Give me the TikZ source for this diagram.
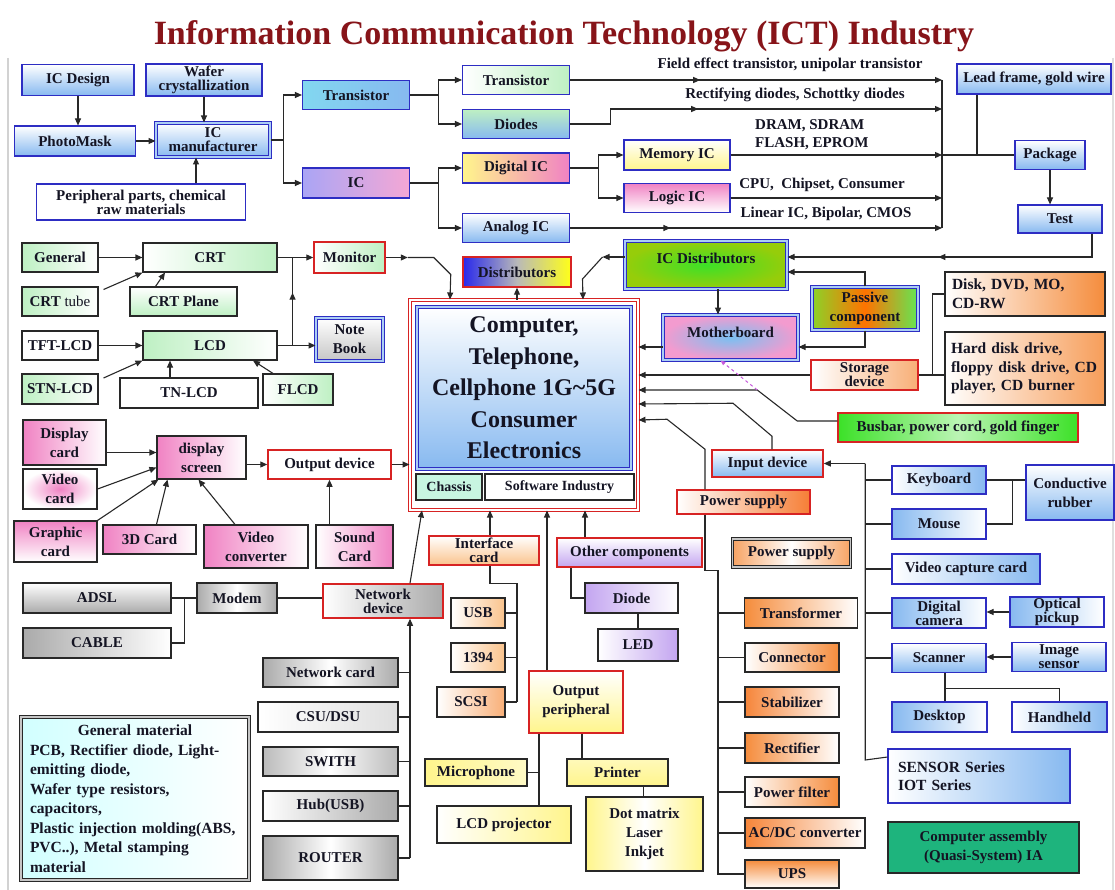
\documentclass[tikz,border=0pt]{standalone}
\usepackage{fontspec}
\setmainfont{Liberation Serif}
\usetikzlibrary{arrows.meta,decorations.markings}

\definecolor{bord}{RGB}{40,40,40}
\definecolor{bl}{RGB}{45,45,195}
\definecolor{rd}{RGB}{215,35,35}
\definecolor{lb}{RGB}{135,185,240}
\definecolor{lg}{RGB}{190,240,195}
\definecolor{pk}{RGB}{240,130,195}
\definecolor{og}{RGB}{245,140,60}
\definecolor{ogl}{RGB}{250,195,140}
\definecolor{yl}{RGB}{255,245,140}
\definecolor{gy}{RGB}{170,170,170}
\definecolor{pu}{RGB}{195,165,240}
\definecolor{tcy}{RGB}{130,215,240}
\definecolor{lav}{RGB}{170,165,245}
\definecolor{grn}{RGB}{60,225,40}
\definecolor{ygrn}{RGB}{150,205,10}
\definecolor{pgrn}{RGB}{140,210,40}
\definecolor{dblue}{RGB}{40,40,235}
\definecolor{casm}{RGB}{30,180,125}
\definecolor{mag}{RGB}{200,90,220}
\definecolor{titlec}{RGB}{135,20,25}
\definecolor{txt}{RGB}{20,20,35}

\newcommand\bxfont{\fontsize{15}{19}\selectfont\bfseries}
\newcommand\tightfont{\fontsize{15}{14}\selectfont\bfseries}

\tikzset{
  bx/.style={draw=bord, line width=1.1pt, font=\bxfont, text=txt, align=center, inner sep=1pt},
  bb/.style={bx, draw=bl},
  rb/.style={bx, draw=rd, line width=1.5pt},
  dblb/.style={bx, draw=bl, double=lb!70, double distance=1.8pt, line width=1pt},
  dblk/.style={bx, draw=bord, double=gray!45, double distance=1.8pt, line width=1pt},
  tight/.style={font=\tightfont},
  sz/.style 2 args={minimum width=#1, minimum height=#2},
  cn/.style={draw=bord, line width=1.1pt},
  arr/.style={cn, -{Triangle[length=7pt,width=6pt]}},
  midarr/.style={postaction={decorate}, decoration={markings, mark=at position #1 with {\arrow{Triangle[length=7pt,width=6pt]}}}},
  lbl/.style={font=\bxfont, text=txt, inner sep=0pt},
}

\begin{document}
\begin{tikzpicture}[x=1pt,y=-1pt]
\useasboundingbox (0,0) rectangle (1115,890);
\fill[white] (0,0) rectangle (1115,890);
\draw[gray!35, line width=1.5pt] (8,58) -- (8,890);
\draw[gray!25, line width=1.5pt] (1113,58) -- (1113,890);

% title
\node[font=\fontsize{34}{40}\selectfont\bfseries, text=titlec, inner sep=0pt] (title) at (564,36) {Information Communication Technology (ICT) Industry};

% ---------- semiconductor chain ----------
\node[bb, top color=white, bottom color=lb, sz={112}{31}] (icd) at (78,80) {IC Design};
\node[bb, tight, top color=white, bottom color=lb, sz={116}{32}] (wafer) at (204,80) {Wafer\\crystallization};
\node[bb, top color=white, bottom color=lb, sz={121}{30}] (pmask) at (75,141) {PhotoMask};
\node[dblb, tight, top color=white, bottom color=lb, sz={114}{34}] (icm) at (213,140) {IC\\manufacturer};
\node[bb, tight, fill=white, sz={209}{36}] (periph) at (141,202) {Peripheral parts, chemical\\raw materials};

\node[bb, left color=tcy, right color=lb, sz={107}{29}] (tr1) at (356,95) {Transistor};
\node[bb, left color=lav, right color=pk!70, sz={107}{30}] (ic1) at (356,183) {IC};
\node[bb, left color=white, right color=lg, sz={107}{29}] (tr2) at (516,80) {Transistor};
\node[bb, top color=lg, bottom color=lb, sz={107}{29}] (dio) at (516,124) {Diodes};
\node[bb, left color=yl, right color=pk, sz={107}{30}] (dig) at (516,168) {Digital IC};
\node[bb, top color=white, bottom color=lb, sz={107}{29}] (ana) at (516,228) {Analog IC};
\node[bb, top color=white, bottom color=yl, sz={106}{30}] (mem) at (677,155) {Memory IC};
\node[bb, top color=pk, bottom color=white, sz={106}{29}] (logic) at (677,198) {Logic IC};
\node[bb, top color=white, bottom color=lb, sz={154}{30}] (lead) at (1034,79) {Lead frame, gold wire};
\node[bb, top color=white, bottom color=lb, sz={70}{29}] (pack) at (1050,155) {Package};
\node[bb, top color=white, bottom color=lb, sz={84}{28}] (test) at (1060,219) {Test};

\node[lbl] (lfet) at (790,65) {Field effect transistor, unipolar transistor};
\node[lbl] (lrect) at (795,95) {Rectifying diodes, Schottky diodes};
\node[lbl, align=left, anchor=west, font=\fontsize{15}{18}\selectfont\bfseries] (lmem) at (755,135) {DRAM, SDRAM\\FLASH, EPROM};
\node[lbl] (lcpu) at (822,185) {CPU,\ \ Chipset, Consumer};
\node[lbl] (llin) at (826,214) {Linear IC, Bipolar, CMOS};

\draw[arr] (icd) -- (icd |- pmask.north);
\draw[arr] (wafer) -- (wafer |- icm.north);
\draw[arr] (pmask) -- (pmask -| icm.west);
\draw[arr] ([xshift=55pt]periph.north) -- ([xshift=-17pt]icm.south);
\draw[cn] (icm.east) -- ++(13,0) coordinate (j1);
\draw[arr] (j1) |- (tr1.west);
\draw[arr] (j1) |- (ic1.west);
\draw[cn] (tr1.east) -- ++(28,0) coordinate (j2);
\draw[arr] (j2) |- (tr2.west);
\draw[arr] (j2) |- (dio.west);
\draw[cn] (ic1.east) -- ++(28,0) coordinate (j3);
\draw[arr] (j3) |- (dig.west);
\draw[arr] (j3) |- (ana.west);
\draw[cn] (dig.east) -- ++(28,0) coordinate (j4);
\draw[arr] (j4) |- (mem.west);
\draw[arr] (j4) |- (logic.west);

\coordinate (busT) at (942,80);
\coordinate (busR) at (942,109);
\coordinate (busB) at (942,228);
\draw[cn] (busT) -- (busB);
\draw[arr, midarr=0.35] (tr2.east) -- (tr2.east -| busT);
\draw[arr, midarr=0.37] (dio.east) -- ++(40,0) -- ++(0,-15) -- (busR);
\draw[arr] (mem.east) -- (mem.east -| busT);
\draw[cn] (mem.east -| busT) -- (pack.west);
\coordinate (lf) at ([xshift=-57pt]lead.south);
\draw[cn] (lf) -- (lf |- pack.west);
\draw[arr] (logic.east) -- (logic.east -| busT);
\draw[arr, midarr=0.27] (ana.east) -- (ana.east -| busT);
\draw[arr] (pack) -- (pack |- test.north);

% ---------- central product ----------
\node[draw=rd, line width=1pt, double=white, double distance=2pt, sz={228}{210}] (compr) at (524,405) {};
\node[dblb, top color=white, bottom color=lb, sz={214}{162}, font=\fontsize{24}{31.5}\selectfont\bfseries] (comp) at (524,388) {Computer,\\Telephone,\\Cellphone 1G\textasciitilde 5G\\Consumer\\Electronics};
\node[bx, fill={rgb,255:red,200;green,245;blue,225}, sz={66}{26}, font=\fontsize{14}{16}\selectfont\bfseries] (chassis) at (449,487) {Chassis};
\node[bx, fill=white, sz={149}{26}, font=\fontsize{14}{16}\selectfont\bfseries] (soft) at (559.5,487) {Software Industry};

\node[rb, left color=dblue, right color=yellow!90, middle color=gray!55, sz={108}{30}] (dist) at (517,272) {Distributors};
\node[dblb, inner color=grn, outer color=ygrn, sz={162}{48}, text height=11pt, text depth=13pt] (icdist) at (706,265) {IC Distributors};
\node[dblb, inner color=lb!90!cyan, outer color=pk!80, sz={135}{45}, text height=11pt, text depth=11pt] (mb) at (730.5,337.5) {Motherboard};
\node[dblb, left color=pgrn, right color=grn!80, middle color=orange!90!red, sz={106}{43}] (pas) at (865,308.5) {Passive\\component};
\node[rb, tight, left color=white, right color=og!70, sz={107}{30}] (stor) at (864.5,375) {Storage\\device};
\node[bx, left color=white, right color=og, sz={160}{44}, text width=146pt, inner xsep=7pt, align=left, font=\fontsize{15.5}{19}\selectfont\bfseries] (disk) at (1025,294) {Disk, DVD, MO,\\CD-RW};
\node[bx, left color=white, right color=og!85, sz={160}{73}, text width=148pt, inner xsep=6pt, align=left, font=\fontsize{15.5}{18.5}\selectfont\bfseries] (hdd) at (1025,368.5) {Hard disk drive,\\floppy disk drive, CD\\player, CD burner};
\node[rb, left color=grn, right color=grn, middle color=grn!35, sz={240}{29}] (busbar) at (958,427.5) {Busbar, power cord, gold finger};

\coordinate (t1) at ([xshift=32pt]test.south);
\draw[arr, midarr=0.54] (t1) |- ([yshift=8pt]icdist.east);
\draw[arr] (compr.north -| dist.south) -- (dist.south);
\draw[arr] ([yshift=8pt]icdist.west) -- ++(-22,0) coordinate (i0);
\draw[arr] (i0) -- ++(-20,22) -- ([xshift=59pt]compr.north);
\coordinate (id1) at ([xshift=12pt]icdist.south);
\draw[arr] (id1) -- (id1 |- mb.north);
\coordinate (mb1) at ([yshift=-9.5pt]mb.west);
\draw[arr] (mb1) -- (mb1 -| compr.east);
\draw[arr] (pas.north) |- ([yshift=-7pt]icdist.east);
\draw[arr] (pas.south) |- ([yshift=-9.5pt]mb.east);
\draw[arr] (stor.west) -- (stor.west -| compr.east);
\draw[cn] (stor.east) -- ++(14,0) coordinate (sj) |- (disk.west);
\draw[cn] (sj) -- (sj -| hdd.west);
\draw[arr] ([yshift=6.5pt]busbar.west) -- ++(-40,0) -- ++(-40,-31) coordinate (bb) -- ([yshift=15pt]compr.east);
\draw[dashed, draw=mag, line width=1pt, -{Triangle[length=5pt,width=4pt]}] (bb) -- ([xshift=-10pt]mb.south);

% ---------- displays ----------
\node[bx, left color=lg, right color=white, sz={76}{29}] (gen) at (60,257.5) {General};
\node[bx, left color=white, right color=lg, sz={134}{29}] (crt) at (210,257.5) {CRT};
\node[bx, left color=lg, right color=white, sz={76}{29}] (crtt) at (60,301.5) {CRT {\mdseries tube}};
\node[bx, top color=white, bottom color=lg, sz={107}{29}] (crtp) at (183.5,301.5) {CRT Plane};
\node[bx, fill=white, sz={76}{29}] (tft) at (60,345.5) {TFT-LCD};
\node[bx, left color=lg, right color=white, sz={134}{29}] (lcd) at (210,345.5) {LCD};
\node[bx, left color=lg, right color=white, sz={76}{30}] (stn) at (60,389) {STN-LCD};
\node[bx, fill=white, sz={138}{30}] (tn) at (189,393) {TN-LCD};
\node[bx, left color=white, right color=lg, sz={70}{31}] (flcd) at (298,389.5) {FLCD};
\node[rb, left color=white, right color=lg, sz={71}{31}] (mon) at (349.5,257.5) {Monitor};
\node[dblb, top color=white, bottom color=gray!45, sz={67}{43}] (nb) at (349.5,339.5) {Note\\Book};

\draw[arr] (gen.east) -- (crt.west);
\draw[arr] ([xshift=5pt,yshift=12pt]crtt.east) -- (crt.south west);
\draw[arr] ([xshift=-28pt]crtp.north) -- ([xshift=-45pt]crt.south);
\draw[arr] (tft.east) -- (lcd.west);
\draw[arr] ([xshift=5pt,yshift=11pt]stn.east) -- (lcd.south west);
\draw[arr] ([xshift=-19pt]tn.north) -- ([xshift=-40pt]lcd.south);
\draw[arr] ([xshift=-25pt]flcd.north) -- ([xshift=43pt]lcd.south);
\draw[arr] (crt.east) -- (mon.west);
\draw[arr] (lcd.east) -- (lcd.east -| nb.west);
\draw[cn, midarr=0.6] ([xshift=15pt]lcd.east) -- ([xshift=15pt]crt.east);
\draw[arr] (mon.east) -- ++(22,0) coordinate (m0);
\draw[arr] (m0) -- ++(26,0) -- ++(17,17) -- ([xshift=-74pt]compr.north);

% ---------- output devices ----------
\node[bx, left color=pk, right color=white, sz={83}{45}] (dc) at (64.5,442.5) {Display\\card};
\node[bx, inner color=pk, outer color=white, sz={74}{40}] (vc) at (60,489) {Video\\card};
\node[bx, top color=pk, bottom color=white, sz={83}{41}] (gc) at (55.5,541.5) {Graphic\\card};
\node[bx, left color=pk, right color=white, sz={93}{29}] (c3d) at (149.5,539.5) {3D Card};
\node[bx, left color=pk, right color=white, sz={104}{43}] (vconv) at (256,546.5) {Video\\converter};
\node[bx, left color=white, right color=pk, sz={77}{43}] (sc) at (354.5,546.5) {Sound\\Card};
\node[bx, left color=pk, right color=white, sz={89}{43}] (ds) at (201.5,457.5) {display\\screen};
\node[rb, fill=white, sz={123}{29}] (od) at (329.5,464.5) {Output device};

\coordinate (a1) at ([yshift=-10pt]dc.east);
\draw[arr] (a1) -- (a1 -| ds.west);
\draw[arr] (vc.east) -- ([yshift=-10pt]ds.west);
\draw[arr] (gc.north east) -- ([xshift=2pt]ds.south west);
\draw[arr] ([xshift=7pt]c3d.north) -- ([xshift=-34pt]ds.south);
\draw[arr] ([xshift=-21pt]vconv.north) -- ([xshift=-3pt]ds.south);
\coordinate (a2) at (ds.east |- od.west);
\draw[arr] (a2) -- (od.west);
\coordinate (a3) at (sc.north -| od.south);
\draw[arr] (a3) -- (od.south);
\draw[arr] (od.east) -- (od.east -| compr.west);

% ---------- network ----------
\node[bx, top color=white, bottom color=gy, sz={148}{30}] (adsl) at (97,598) {ADSL};
\node[bx, left color=gy, right color=white, sz={148}{30}] (cable) at (97,643) {CABLE};
\node[bx, left color=gy, right color=gy, middle color=white, sz={80}{30}] (modem) at (237,598) {Modem};
\node[rb, tight, left color=white, right color=gy, sz={120}{34}] (nd) at (383,601) {Network\\device};
\node[bx, left color=gy, right color=gy, middle color=white, sz={135}{29}] (ncard) at (330.5,672.5) {Network card};
\node[bx, left color=white, right color=gray!25, sz={140}{30}] (csu) at (328,717) {CSU/DSU};
\node[bx, left color=gy!80, right color=gy!80, middle color=white, sz={135}{29}] (swith) at (330.5,761.5) {SWITH};
\node[bx, left color=white, right color=gy, sz={135}{30}] (hub) at (330.5,806) {Hub(USB)};
\node[bx, left color=gy, right color=gy, middle color=white, sz={135}{44}] (router) at (330.5,858) {ROUTER};
\node[dblk, left color=cyan!18, right color=white, sz={228}{163}, text width=210pt, inner xsep=9pt, align=left, font=\fontsize{15.5}{19.5}\selectfont\bfseries] (gm) at (135,798.5) {\makebox[210pt]{General material}\\PCB, Rectifier diode, Light-\\emitting diode,\\Wafer type resistors,\\capacitors,\\Plastic injection molding(ABS,\\PVC..), Metal stamping\\material};

\draw[cn] (adsl.east) -- (modem.west);
\draw[cn] (cable.east) -| ([xshift=13pt]adsl.east);
\draw[cn] (modem.east) -- (modem.east -| nd.west);
\draw[arr] ([xshift=27pt]nd.north) -- ([xshift=-102pt]compr.south);
\coordinate (nt) at ([xshift=27pt]nd.south);
\draw[arr] (nt |- router.east) -- (nt);
\foreach \n in {ncard,csu,swith,hub,router} \draw[cn] (\n.east) -- (\n.east -| nt);

% ---------- interface / other components / peripherals ----------
\node[rb, tight, top color=white, bottom color=ogl, sz={110}{29}] (ifc) at (484,550.5) {Interface\\card};
\node[bx, left color=white, right color=ogl, sz={54}{30}] (usb) at (478,613) {USB};
\node[bx, left color=white, right color=ogl, sz={54}{29}] (fw) at (478,657.5) {1394};
\node[bx, left color=white, right color=og!70, sz={68}{30}] (scsi) at (471,702) {SCSI};
\node[rb, top color=white, bottom color=yl, sz={94}{62}] (op) at (576,702) {Output\\peripheral};
\node[rb, top color=white, bottom color=pu, sz={145}{29}] (oc) at (629.5,552.5) {Other components};
\node[bx, left color=pu, right color=white, sz={93}{30}] (diode) at (631.5,598) {Diode};
\node[bx, left color=white, right color=pu, sz={80}{32}] (led) at (638,645) {LED};
\node[bx, left color=yl, right color=yl!50, sz={102}{27}] (mic) at (476,772.5) {Microphone};
\node[bx, left color=white, right color=yl, sz={134}{37}] (lcdp) at (504,824.5) {LCD projector};
\node[bx, top color=yl!60, bottom color=yl, sz={101}{27}] (prn) at (617.5,772.5) {Printer};
\node[bx, left color=yl, right color=yl, middle color=white, sz={117}{74}] (dot) at (644.5,834) {Dot matrix\\Laser\\Inkjet};

\draw[arr] ([xshift=6pt]ifc.north) -- ([xshift=-34pt]compr.south);
\draw[cn] ([xshift=6pt]ifc.south) -- ++(0,18) -- ++(27,0) coordinate (it2) -- (it2 |- scsi.east);
\foreach \n in {usb,fw,scsi} \draw[cn] (\n.east) -- (\n.east -| it2);
\draw[arr] ([xshift=-29pt]op.north) -- ([xshift=23pt]compr.south);
\draw[arr] ([xshift=-44.5pt]oc.north) -- ([xshift=61pt]compr.south);
\draw[cn] ([xshift=-58.5pt]oc.south) |- (diode.west);
\draw[cn] (led.north) -- (led.north |- diode.south);
\coordinate (o1) at ([xshift=-37pt]op.south);
\draw[cn] (o1) -- (o1 |- lcdp.north);
\draw[cn] (mic.east) -- (mic.east -| o1);
\coordinate (o2) at ([xshift=6pt]op.south);
\draw[cn] (o2) -- (o2 |- prn.north);
\coordinate (o3) at ([xshift=26pt]prn.south);
\draw[cn] (o3) -- (o3 |- dot.north);

% ---------- power ----------
\node[rb, top color=white, bottom color=lb, sz={111}{27}] (inp) at (767.5,463.5) {Input device};
\node[rb, left color=white, right color=og!90!red, sz={133}{24}] (ps) at (743.5,502) {Power supply};
\node[dblk, left color=og!80, right color=og!80, middle color=white, sz={118}{28}] (ps2) at (791.5,553) {Power supply};
\node[bx, left color=og, right color=white, sz={113}{30}] (tf) at (801,613) {Transformer};
\node[bx, left color=white, right color=og, sz={94}{29}] (conn) at (792,657.5) {Connector};
\node[bx, left color=og!95!red, right color=white, sz={94}{30}] (stab) at (792,702) {Stabilizer};
\node[bx, left color=og, right color=white, sz={94}{30}] (rect) at (792,748) {Rectifier};
\node[bx, left color=white, right color=og, sz={94}{30}] (pf) at (792,792) {Power filter};
\node[bx, left color=og!95!red, right color=white, sz={120}{30}] (acdc) at (805,833) {AC/DC converter};
\node[bx, top color=og, bottom color=white, sz={94}{28}] (ups) at (792,874) {UPS};

\draw[arr] ([xshift=4.5pt]inp.north) -- ++(0,-13) -- ++(-39,-33) -- ([yshift=1pt]compr.east);
\draw[arr] ([xshift=-38.5pt]ps.north) -- ++(0,-40) -- ++(-38,-30) -- ([yshift=-15pt]compr.east);
\draw[cn] ([xshift=-38.5pt]ps.south) -- ++(0,56) -- ++(13,0) coordinate (pt) -- (pt |- ups.west) -- (ups.west);
\foreach \n in {tf,conn,stab,rect,pf,acdc} \draw[cn] (pt |- \n.west) -- (\n.west);

% ---------- input devices ----------
\node[bb, left color=white, right color=lb, sz={94}{28}] (kb) at (939,480) {Keyboard};
\node[bb, left color=lb, right color=white, sz={94}{30}] (mouse) at (939,524) {Mouse};
\node[bb, top color=white, bottom color=lb, sz={88}{55}] (rub) at (1070,492.5) {Conductive\\rubber};
\node[bb, left color=white, right color=lb, sz={148}{30}] (vcc) at (966,569) {Video capture card};
\node[bb, tight, left color=lb, right color=white, sz={94}{30}] (dcam) at (939,613) {Digital\\camera};
\node[bb, tight, left color=lb, right color=white, sz={94}{30}] (opt) at (1057,612) {Optical\\pickup};
\node[bb, top color=white, bottom color=lb, sz={94}{29}] (scan) at (939,658) {Scanner};
\node[bb, tight, top color=white, bottom color=lb, sz={94}{29}] (isen) at (1059,657) {Image\\sensor};
\node[bb, left color=lb, right color=white, sz={95}{30}] (desk) at (939.5,717) {Desktop};
\node[bb, left color=white, right color=lb, sz={95}{30}] (hand) at (1059.5,717) {Handheld};
\node[bb, left color=white, right color=lb, sz={182}{54}, text width=162pt, inner xsep=10pt, align=left, font=\fontsize{15.5}{18.5}\selectfont\bfseries] (sens) at (979,776) {SENSOR Series\\IOT Series};
\node[bx, fill=casm, sz={191}{51}] (casm) at (983.5,847.5) {Computer assembly\\(Quasi-System) IA};

\coordinate (itop) at ([xshift=41.5pt]inp.east);
\draw[arr] (itop) -- (inp.east);
\draw[cn] (itop) -- ++(0,296.5) coordinate (ibot) -- ([yshift=19pt]sens.west);
\foreach \n in {kb,mouse,vcc,dcam,scan} \draw[cn] (itop |- \n.west) -- (\n.west);
\draw[cn] (kb.east) -- ++(26,0) coordinate (kj) -- (kj -| rub.west);
\draw[cn] (mouse.east) -| (kj);
\draw[arr] (opt.west) -- (opt.west -| dcam.east);
\draw[arr] (isen.west) -- (isen.west -| scan.east);
\coordinate (sc0) at ([xshift=6pt]scan.south);
\draw[cn] (sc0) -- ++(0,15) coordinate (sc1) -| (hand.north);
\draw[cn] (sc1) -- (sc1 |- desk.north);
\end{tikzpicture}
\end{document}
